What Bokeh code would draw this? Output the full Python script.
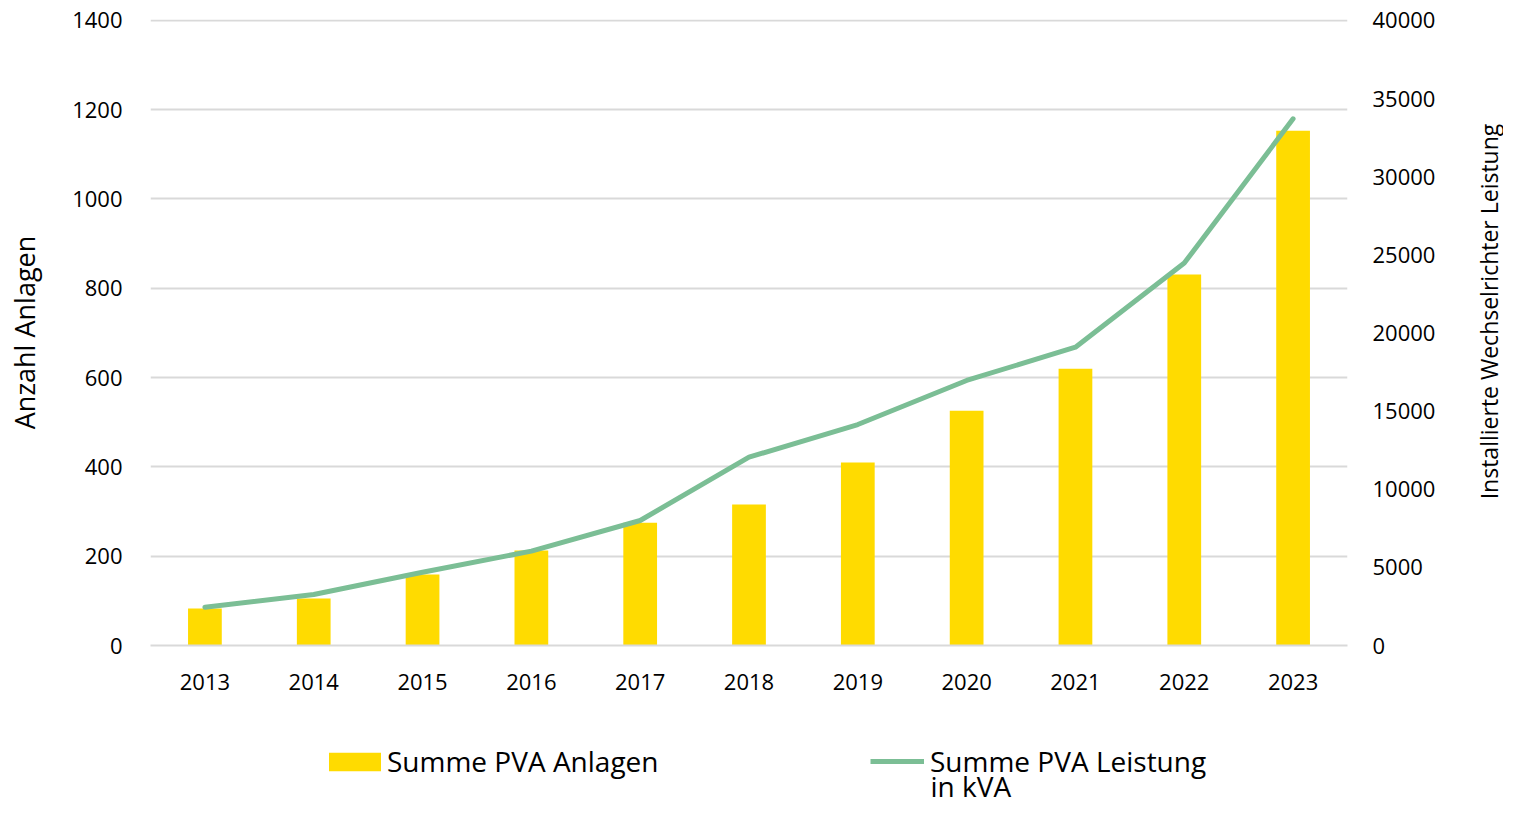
import math
from bokeh.plotting import figure
from bokeh.layouts import column, row
from bokeh.models import (FactorRange, Range1d, LinearAxis, Legend, LegendItem,
                          ColumnDataSource, FixedTicker, Label)
from bokeh.embed import file_html
from bokeh.resources import INLINE

years = ["2013", "2014", "2015", "2016", "2017", "2018", "2019", "2020", "2021", "2022", "2023"]
anlagen = [83, 105, 159, 213, 275, 316, 410, 526, 620, 831, 1153]
leistung_kva = [2450, 3260, 4690, 6040, 8000, 12050, 14140, 16960, 19090, 24470, 33700]
left_ticks = [0, 200, 400, 600, 800, 1000, 1200, 1400]
right_ticks = [0, 5000, 10000, 15000, 20000, 25000, 30000, 35000, 40000]

BAR = "#FFDB00"
LINE = "#7BBE95"
GRID = "#D9D9D9"
TXT = "#000000"
FONT = "Open Sans"

W = 1450
src = ColumnDataSource(dict(year=years, anlagen=anlagen, kva=leistung_kva))

p = figure(width=W, height=706, x_range=FactorRange(*years, range_padding=0),
           y_range=Range1d(0, 1402), output_backend="svg", toolbar_location=None,
           min_border_left=150, min_border_right=103, min_border_top=19,
           min_border_bottom=61)
p.outline_line_color = None
p.extra_y_ranges = {"kva": Range1d(0, 40000 * 1402 / 1400)}

bars = p.vbar(x="year", top="anlagen", width=0.31, source=src, color=BAR, line_color=None)
line = p.line(x="year", y="kva", source=src, y_range_name="kva", line_color=LINE,
              line_width=5, line_cap="round", line_join="round")

ly = p.yaxis[0]
ly.ticker = FixedTicker(ticks=left_ticks)
ly.axis_label = "Anzahl Anlagen"

ry = LinearAxis(y_range_name="kva", ticker=FixedTicker(ticks=right_ticks))
p.add_layout(ry, "right")

for ax in (ly, ry):
    ax.axis_line_color = None
    ax.major_tick_line_color = None
    ax.minor_tick_line_color = None
    ax.major_label_text_font = FONT
    ax.major_label_text_font_size = "22px"
    ax.major_label_text_color = TXT

ly.major_label_standoff = 22
ly.axis_label_text_font = FONT
ly.axis_label_text_font_style = "normal"
ly.axis_label_text_color = TXT
ly.axis_label_text_font_size = "27px"
ly.axis_label_standoff = 26
ry.major_label_standoff = 19

xa = p.xaxis[0]
xa.axis_line_color = GRID
xa.axis_line_width = 2
xa.major_tick_line_color = None
xa.minor_tick_line_color = None
xa.major_label_text_font = FONT
xa.major_label_text_font_size = "22px"
xa.major_label_text_color = TXT
xa.major_label_standoff = 22

p.xgrid.grid_line_color = None
p.ygrid.grid_line_color = GRID
p.ygrid.grid_line_width = 2

# legend strip below the chart (proxies of the series, drawn out of view)
lf = figure(width=W, height=100, x_range=FactorRange(*years), y_range=Range1d(1e6, 1e6 + 1),
            x_axis_location=None, y_axis_location=None, output_backend="svg",
            toolbar_location=None, min_border=0)
lf.outline_line_color = None
lf.grid.visible = False
lbar = lf.vbar(x="year", top="anlagen", width=0, source=src, color=BAR, line_color=None)
lline = lf.line(x="year", y="kva", source=src, line_color=LINE, line_width=5)

leg1 = Legend(items=[LegendItem(label="Summe PVA Anlagen", renderers=[lbar])],
              location=(172, 26), glyph_width=65, glyph_height=23, label_standoff=0)
leg2 = Legend(items=[LegendItem(label="Summe PVA Leistung", renderers=[lline])],
              location=(720, 26), glyph_width=54, glyph_height=18, label_standoff=6)
for lg in (leg1, leg2):
    lg.border_line_color = None
    lg.background_fill_alpha = 0
    lg.padding = 0
    lg.margin = 0
    lg.label_text_font = FONT
    lg.label_text_font_size = "28px"
    lg.label_text_color = TXT
    lf.add_layout(lg, "center")

lf.add_layout(Label(x=780, y=21, x_units="screen", y_units="screen", text="in kVA",
                    text_font=FONT, text_font_size="28px", text_color=TXT,
                    text_baseline="alphabetic"))

# right-hand axis title, reading bottom to top
rf = figure(width=53, height=706, x_range=Range1d(0, 1), y_range=Range1d(0, 1),
            x_axis_location=None, y_axis_location=None, output_backend="svg",
            toolbar_location=None, min_border=0)
rf.outline_line_color = None
rf.grid.visible = False
rf.add_layout(Label(x=38, y=395, x_units="screen", y_units="screen",
                    text="Installierte Wechselrichter Leistung", angle=math.pi / 2,
                    text_align="center", text_baseline="middle",
                    text_font=FONT, text_font_size="23px", text_color=TXT))

layout = row(column(p, lf, spacing=0), rf, spacing=0)
open("out.html", "w").write(file_html(layout, INLINE))
